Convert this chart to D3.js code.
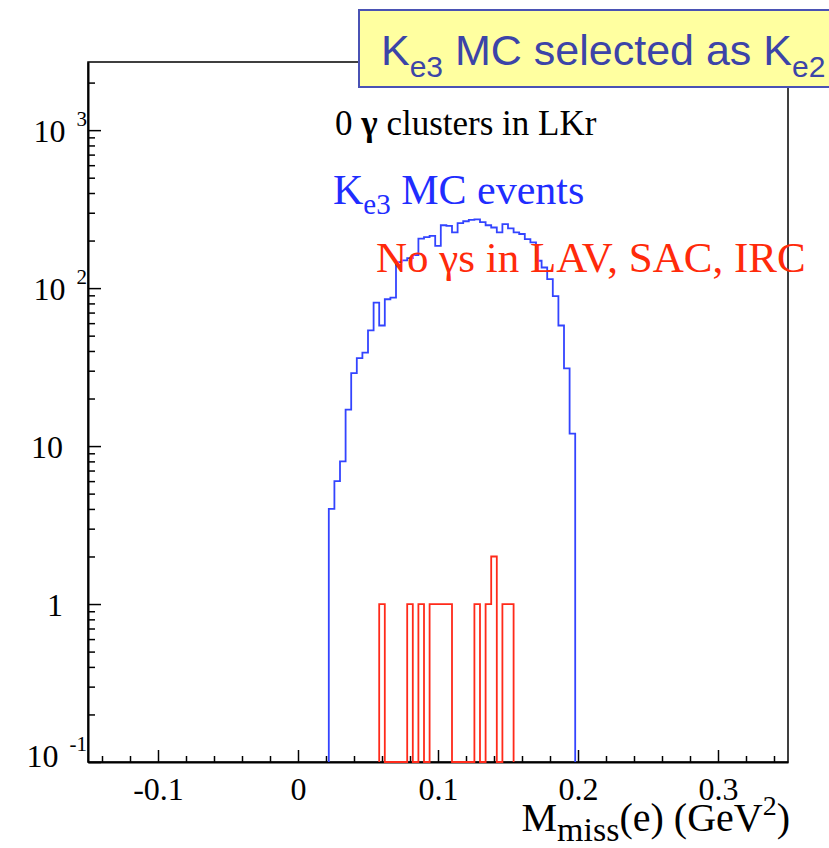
<!DOCTYPE html>
<html>
<head>
<meta charset="utf-8">
<script src="https://cdnjs.cloudflare.com/ajax/libs/d3/7.8.5/d3.min.js"></script>
<style>
  body { margin: 0; background: #fff; }
  svg { display: block; }
</style>
</head>
<body>
<div id="chart"></div>
<script>
// histogram binning (GeV^2)
var binWidth = 0.004;

// Ke3 MC events, first bin starts at 0.022
var blueStart = 0.022;
var blueCounts = [4, 6, 8, 17, 29, 36, 39, 54, 81, 58,
                  85, 87, 146, 150, 155, 162, 206, 210, 214, 185,
                  250, 248, 225, 258, 265, 270, 272, 262, 250, 242,
                  225, 254, 239, 225, 220, 204, 195, 149, 135, 114,
                  89, 58, 31, 12];

// no photons in LAV, SAC, IRC, first bin starts at 0.058
var redStart = 0.058;
var redCounts = [1, 0, 0, 0, 0, 1, 0, 1, 0, 1,
                 1, 1, 1, 0, 0, 0, 0, 1, 0, 1,
                 2, 0, 1, 1];

var xMajor = [-0.1, 0, 0.1, 0.2, 0.3];
var xMajorLabels = ["-0.1", "0", "0.1", "0.2", "0.3"];
var yMajor = [0.1, 1, 10, 100, 1000];
var yMajorLabels = [["10", "-1"], ["1", ""], ["10", ""], ["10", "2"], ["10", "3"]];

var W = 829, H = 848;
var padL = 88, padR = 788, padT = 62, padB = 762;
var yMin = 0.1, yMax = 2700;

var svg = d3.select("#chart").append("svg")
    .attr("width", W)
    .attr("height", H);

var x = d3.scaleLinear().domain([-0.15, 0.35]).range([padL, padR]);
var y = d3.scaleLog().domain([yMin, yMax]).range([padB, padT]);

var serif = "'Liberation Serif', 'Times New Roman', serif";

// frame
svg.append("rect")
    .attr("x", padL).attr("y", padT)
    .attr("width", padR - padL).attr("height", padB - padT)
    .attr("fill", "none")
    .attr("stroke", "#000")
    .attr("stroke-width", 1.5);

// minor ticks
var xMinor = d3.range(-0.14, 0.35, 0.02).filter(function(d) {
    return Math.abs(Math.round(d * 10) - d * 10) > 1e-6;
});
var yMinor = [];
[0.1, 1, 10, 100, 1000].forEach(function(dec) {
    for (var k = 2; k <= 9; k++) {
        if (dec * k <= yMax) yMinor.push(dec * k);
    }
});

svg.append("g")
    .attr("transform", "translate(0," + padB + ")")
    .call(d3.axisBottom(x).tickValues(xMinor).tickSize(-6).tickSizeOuter(0).tickFormat(""))
    .call(function(g) { g.select(".domain").remove(); });

svg.append("g")
    .attr("transform", "translate(" + padL + ",0)")
    .call(d3.axisLeft(y).tickValues(yMinor).tickSize(-7).tickSizeOuter(0).tickFormat(""))
    .call(function(g) { g.select(".domain").remove(); });

// major ticks + labels
var xAxis = svg.append("g")
    .attr("transform", "translate(0," + padB + ")")
    .call(d3.axisBottom(x).tickValues(xMajor).tickSize(-12).tickSizeOuter(0).tickPadding(15)
        .tickFormat(function(d, i) { return xMajorLabels[i]; }));
xAxis.selectAll("text")
    .attr("font-family", serif)
    .attr("font-size", 32)
    .attr("fill", "#000");

var yAxis = svg.append("g")
    .attr("transform", "translate(" + padL + ",0)")
    .call(d3.axisLeft(y).tickValues(yMajor).tickSize(-13).tickSizeOuter(0).tickFormat(""));

svg.selectAll(".domain").attr("stroke-width", 2);
svg.selectAll(".tick line").attr("stroke", "#000").attr("stroke-width", 1.5);

var yLab = svg.append("g")
    .attr("font-family", serif)
    .attr("fill", "#000");
yMajor.forEach(function(v, i) {
    var lab = yMajorLabels[i];
    var shift = v === yMin ? 5 : 12;
    var t = yLab.append("text")
        .attr("x", lab[1] ? 87 : 63)
        .attr("y", y(v) + shift)
        .attr("text-anchor", "end")
        .attr("font-size", 32);
    t.append("tspan").text(lab[0]);
    if (lab[1]) {
        t.append("tspan")
            .attr("dx", 11)
            .attr("dy", -16)
            .attr("font-size", 21)
            .text(lab[1]);
    }
});

// histograms
function histLine(start, counts) {
    var pts = [[start, yMin]];
    counts.forEach(function(c, i) {
        pts.push([start + i * binWidth, Math.max(c, yMin)]);
    });
    var end = start + counts.length * binWidth;
    pts.push([end, Math.max(counts[counts.length - 1], yMin)]);
    pts.push([end, yMin]);
    return d3.line()
        .x(function(d) { return x(d[0]); })
        .y(function(d) { return y(d[1]); })
        .curve(d3.curveStepAfter)(pts);
}

svg.append("path")
    .attr("d", histLine(blueStart, blueCounts))
    .attr("fill", "none")
    .attr("stroke", "#3344ff")
    .attr("stroke-width", 1.8);

svg.append("path")
    .attr("d", histLine(redStart, redCounts))
    .attr("fill", "none")
    .attr("stroke", "#ff2a1a")
    .attr("stroke-width", 1.8);

// texts in the pad
var t1 = svg.append("text")
    .attr("x", 335).attr("y", 135)
    .attr("font-family", serif)
    .attr("font-size", 35)
    .attr("fill", "#000");
t1.append("tspan").text("0 ");
t1.append("tspan").attr("font-weight", "bold").text("γ");
t1.append("tspan").text(" clusters in LKr");

var t2 = svg.append("text")
    .attr("x", 333).attr("y", 204)
    .attr("font-family", serif)
    .attr("font-size", 42)
    .attr("fill", "#1f2dff");
t2.append("tspan").text("K");
t2.append("tspan").attr("font-size", 29).attr("dy", 10).text("e3");
t2.append("tspan").attr("dy", -10).text(" MC events");

svg.append("text")
    .attr("x", 376).attr("y", 272)
    .attr("font-family", serif)
    .attr("font-size", 43)
    .attr("fill", "#ff2a0a")
    .text("No γs in LAV, SAC, IRC");

// x axis title
var xt = svg.append("text")
    .attr("x", 790).attr("y", 831)
    .attr("text-anchor", "end")
    .attr("font-family", serif)
    .attr("font-size", 40)
    .attr("fill", "#000");
xt.append("tspan").text("M");
xt.append("tspan").attr("font-size", 34).attr("dy", 10).text("miss");
xt.append("tspan").attr("dy", -10).text("(e) (GeV");
xt.append("tspan").attr("font-size", 28).attr("dy", -16).text("2");
xt.append("tspan").attr("dy", 16).text(")");

// slide title box
svg.append("rect")
    .attr("x", 359).attr("y", 10)
    .attr("width", 500).attr("height", 77)
    .attr("fill", "#ffffa0")
    .attr("stroke", "#4a52b4")
    .attr("stroke-width", 2);

var tt = svg.append("text")
    .attr("x", 381).attr("y", 65)
    .attr("font-family", "'Liberation Sans', Arial, sans-serif")
    .attr("font-size", 43)
    .attr("fill", "#3c44a8");
tt.append("tspan").text("K");
tt.append("tspan").attr("font-size", 30).attr("dy", 12).text("e3");
tt.append("tspan").attr("dy", -12).text(" MC selected as K");
tt.append("tspan").attr("font-size", 30).attr("dy", 12).text("e2");
</script>
</body>
</html>
